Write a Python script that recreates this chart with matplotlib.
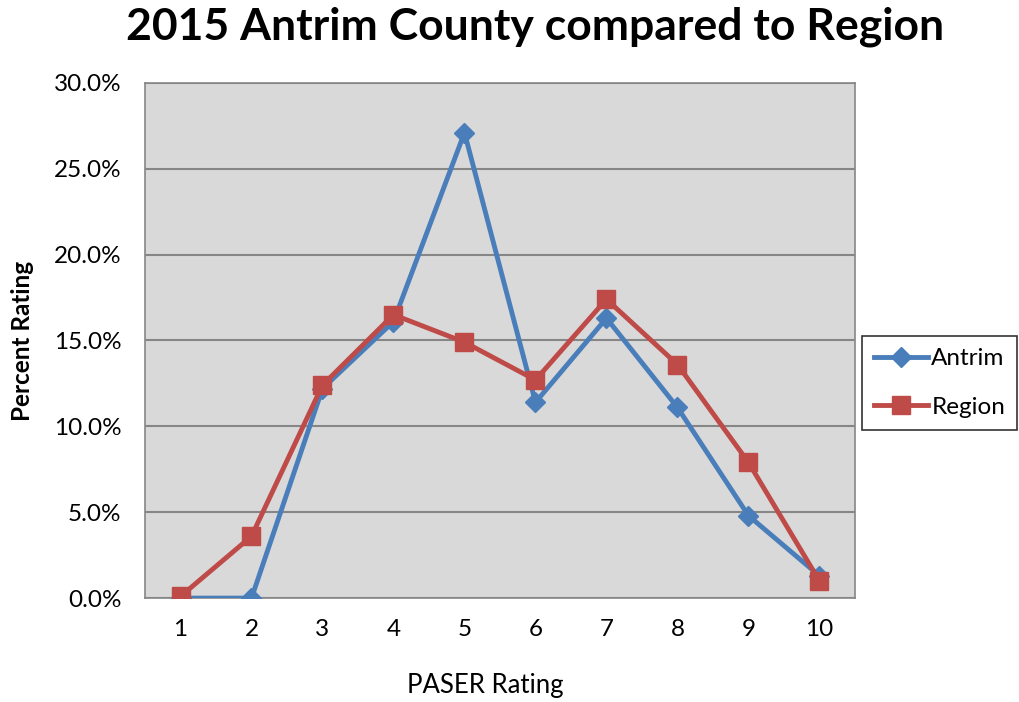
import matplotlib.pyplot as plt
import numpy as np

plt.rcParams['font.family'] = ['Lato', 'DejaVu Sans']

ratings = [1, 2, 3, 4, 5, 6, 7, 8, 9, 10]
antrim = [0.0, 0.0, 12.2, 16.1, 27.1, 11.4, 16.3, 11.1, 4.8, 1.3]
region = [0.1, 3.6, 12.4, 16.5, 14.9, 12.7, 17.4, 13.6, 7.9, 1.0]
yticks = [0, 5, 10, 15, 20, 25, 30]


def main():
    fig = plt.figure(figsize=(10.19, 7.02), dpi=100)
    ax = fig.add_axes([0.1423, 0.148, 0.6967, 0.734])
    ax.set_facecolor('#D9D9D9')

    ax.plot(ratings, antrim, color='#4A7EBB', lw=3.5, marker='D', ms=10,
            label='Antrim', zorder=3)
    ax.plot(ratings, region, color='#BE4B48', lw=3.5, marker='s', ms=12.5,
            label='Region', zorder=4)

    ax.set_xlim(0.5, 10.5)
    ax.set_ylim(0, 30)
    ax.set_xticks(ratings)
    ax.set_yticks(yticks)
    ax.set_yticklabels(['%.1f%%' % v for v in yticks])
    ax.tick_params(axis='both', labelsize=17.5, length=0)
    ax.tick_params(axis='y', pad=17)
    ax.tick_params(axis='x', pad=15)
    ax.yaxis.grid(True, color='#868686', lw=1.5)
    ax.set_axisbelow(True)
    for s in ax.spines.values():
        s.set_color('#868686')
        s.set_linewidth(1.2)

    ax.set_xlabel('PASER Rating', fontsize=18.5, va='center')
    ax.xaxis.set_label_coords(0.48, -0.169)
    ax.set_ylabel('Percent Rating', fontsize=17.5, fontweight='bold', labelpad=14)
    fig.text(0.525, 0.962, '2015 Antrim County compared to Region',
             ha='center', va='center', fontsize=32, fontweight='bold')

    leg = fig.legend(loc='center left', bbox_to_anchor=(862 / 1019, 1 - 383 / 702),
                     fontsize=17.5, frameon=True, fancybox=False,
                     borderpad=0.5, labelspacing=1.15, handlelength=2.2,
                     handletextpad=0.15, borderaxespad=0)
    leg.get_frame().set_edgecolor('black')
    leg.get_frame().set_linewidth(1.2)

    fig.savefig('out.png', dpi=100)


if __name__ == '__main__':
    main()
